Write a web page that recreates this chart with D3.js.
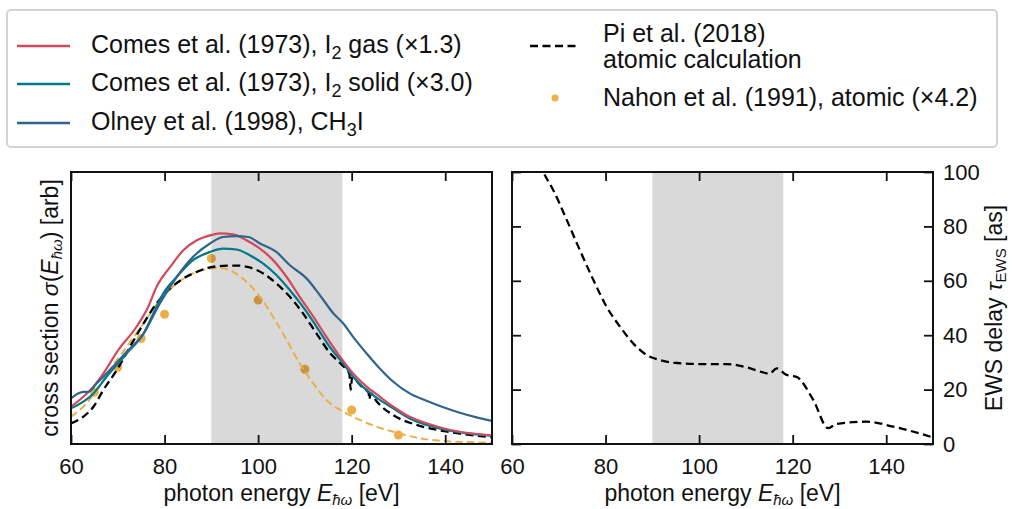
<!DOCTYPE html>
<html>
<head>
<meta charset="utf-8">
<script src="https://cdn.jsdelivr.net/npm/d3@7"></script>
<style>
  body { margin: 0; background: #fff; }
  svg text { font-family: "Liberation Sans", Arial, sans-serif; fill: #111; }
</style>
</head>
<body>
<script>
// photon energy [eV], cross sections in arbitrary units
var gasI2 = [[60,0.137],[64.8,0.211],[66.9,0.259],[70.1,0.345],[74,0.431],[76.5,0.504],[78.3,0.578],[81.2,0.651],[84,0.712],[86.9,0.749],[89.7,0.767],[91.8,0.774],[94.7,0.771],[97.5,0.749],[100.4,0.718],[103.2,0.676],[106.1,0.614],[108.9,0.541],[111.8,0.468],[114.6,0.394],[117.5,0.321],[120.3,0.259],[123.2,0.211],[126,0.174],[128.9,0.137],[132.4,0.1],[136,0.076],[139.6,0.058],[143.1,0.045],[150,0.032]];
var solidI2 = [[60,0.131],[64.8,0.186],[67.6,0.247],[71.9,0.333],[75.5,0.406],[77.6,0.48],[79.7,0.553],[82.6,0.614],[86.1,0.676],[89.7,0.706],[92.5,0.718],[95.4,0.715],[98.2,0.694],[101.1,0.663],[103.9,0.621],[106.8,0.565],[109.6,0.504],[112.5,0.431],[115.3,0.357],[118.2,0.296],[120.3,0.247],[123.2,0.198],[126,0.162],[128.9,0.131],[132.4,0.094],[136,0.07],[139.6,0.054],[143.1,0.043],[150,0.031]];
var olneyCH3I = [[60,0.168],[62.6,0.192],[63.7,0.192],[65.5,0.223],[68.3,0.272],[71.9,0.339],[75.5,0.406],[79,0.517],[82.6,0.614],[86.1,0.688],[89.7,0.737],[92.5,0.761],[95.4,0.764],[97.9,0.761],[100.4,0.737],[103.9,0.706],[106.8,0.657],[110.4,0.608],[113.2,0.547],[116.1,0.48],[118.2,0.443],[120.3,0.394],[123.2,0.333],[126,0.278],[128.9,0.229],[132.4,0.186],[136,0.159],[139.6,0.135],[143.1,0.115],[146.7,0.098],[150,0.085]];
var piCalc = [[60,0.076],[62.6,0.1],[64.8,0.137],[66.9,0.198],[69.8,0.272],[72.6,0.357],[75.5,0.443],[78.3,0.517],[81.2,0.572],[84,0.608],[86.9,0.633],[89.7,0.649],[92.5,0.655],[95.4,0.656],[98.2,0.649],[101.1,0.627],[103.9,0.59],[106.8,0.541],[109.6,0.48],[112.5,0.406],[115.3,0.336],[117.5,0.298],[118.8,0.275],[119.5,0.258],[119.8,0.2],[120.1,0.246],[121,0.232],[122.5,0.205],[123.6,0.19],[123.8,0.163],[124,0.186],[125.4,0.155],[128.8,0.107],[133.9,0.07],[141,0.044],[150,0.025]];
var nahonFit = [[60,0.1],[62.6,0.137],[65.5,0.198],[68.3,0.272],[71.9,0.357],[75.5,0.443],[79,0.529],[82.6,0.59],[86.1,0.627],[89.7,0.645],[91.8,0.647],[94.7,0.633],[97.5,0.596],[100.4,0.541],[103.2,0.468],[106.1,0.382],[108.9,0.296],[111.8,0.223],[114.6,0.162],[118.2,0.119],[121.8,0.088],[125.3,0.064],[128.9,0.045],[132.4,0.029],[136,0.017],[139.6,0.011],[150,0.005]];
var nahonPts = [[65,0.19],[70,0.282],[75,0.388],[80,0.477],[90,0.682],[100,0.529],[110,0.275],[120,0.125],[130,0.033]];
// EWS delay [as]
var ewsDelay = [[64,112],[66.7,100],[68.8,93.4],[71.7,82.4],[74.5,71.3],[77.4,60.3],[80.2,50.5],[83.1,43.1],[85.9,37],[88.8,32.7],[91.6,30.9],[94.5,29.9],[100.2,29.4],[105.9,29.4],[110.1,28.2],[114.4,26],[115,25.8],[116.6,27.8],[118.7,25.4],[120.8,24.7],[124.4,16.2],[127.6,5.8],[129.4,7.4],[135.8,8.2],[141.5,6.4],[150,2.4]];

var shadeRange = [90, 118];
var xTicks = [60, 80, 100, 120, 140];
var yTicksR = [0, 20, 40, 60, 80, 100];

var col = { red: "#d1495b", teal: "#00798c", blue: "#30638e", orange: "#edae49" };

var W = 1014, H = 509;
var svg = d3.select("body").append("svg").attr("width", W).attr("height", H);

var yTop = 172, yBot = 444;
var xL = d3.scaleLinear().domain([60, 150]).range([71, 492]);
var xR = d3.scaleLinear().domain([60, 150]).range([512, 933]);
var yL = d3.scaleLinear().domain([0, 1]).range([yBot, yTop]);
var yR = d3.scaleLinear().domain([0, 100]).range([yBot, yTop]);

function clip(id, x) {
    svg.append("clipPath").attr("id", id).append("rect")
        .attr("x", x.range()[0]).attr("y", yTop)
        .attr("width", x.range()[1] - x.range()[0]).attr("height", yBot - yTop);
}
clip("cl", xL);
clip("cr", xR);

function line(x, y) {
    return d3.line().x(d => x(d[0])).y(d => y(d[1])).curve(d3.curveMonotoneX);
}

// ---- left panel
var gl = svg.append("g").attr("clip-path", "url(#cl)");
gl.selectAll("circle").data(nahonPts).enter().append("circle")
    .attr("cx", d => xL(d[0])).attr("cy", d => yL(d[1])).attr("r", 4.5)
    .attr("fill", col.orange);
gl.append("rect").attr("x", xL(shadeRange[0])).attr("y", yTop)
    .attr("width", xL(shadeRange[1]) - xL(shadeRange[0])).attr("height", yBot - yTop)
    .attr("fill", "#000").attr("opacity", 0.15);

var lf = line(xL, yL);
gl.append("path").attr("d", lf(nahonFit)).attr("fill", "none").attr("stroke", col.orange)
    .attr("stroke-width", 2).attr("stroke-dasharray", "7.5,4");
gl.append("path").attr("d", lf(piCalc)).attr("fill", "none").attr("stroke", "#000")
    .attr("stroke-width", 2.3).attr("stroke-dasharray", "8,4.5");
gl.append("path").attr("d", lf(solidI2)).attr("fill", "none").attr("stroke", col.teal).attr("stroke-width", 2.2);
gl.append("path").attr("d", lf(gasI2)).attr("fill", "none").attr("stroke", col.red).attr("stroke-width", 2.2);
gl.append("path").attr("d", lf(olneyCH3I)).attr("fill", "none").attr("stroke", col.blue).attr("stroke-width", 2.2);

// ---- right panel
var gr = svg.append("g").attr("clip-path", "url(#cr)");
gr.append("rect").attr("x", xR(shadeRange[0])).attr("y", yTop)
    .attr("width", xR(shadeRange[1]) - xR(shadeRange[0])).attr("height", yBot - yTop)
    .attr("fill", "#000").attr("opacity", 0.15);
gr.append("path").attr("d", line(xR, yR)(ewsDelay)).attr("fill", "none").attr("stroke", "#000")
    .attr("stroke-width", 2.3).attr("stroke-dasharray", "8,4.5");

// ---- axes (ticks inward)
function frame(x, withY) {
    var g = svg.append("g");
    g.append("g").attr("transform", "translate(0," + yBot + ")")
        .call(d3.axisBottom(x).tickValues(xTicks).tickSizeInner(-9).tickSizeOuter(0).tickPadding(14));
    g.append("g").attr("transform", "translate(0," + yTop + ")")
        .call(d3.axisTop(x).tickValues(xTicks).tickSizeInner(-9).tickSizeOuter(0).tickFormat(""));
    if (withY) {
        g.append("g").attr("transform", "translate(" + x.range()[0] + ",0)")
            .call(d3.axisLeft(yR).tickValues(yTicksR).tickSizeInner(-9).tickSizeOuter(0).tickFormat(""));
        g.append("g").attr("transform", "translate(" + x.range()[1] + ",0)")
            .call(d3.axisRight(yR).tickValues(yTicksR).tickSizeInner(-9).tickSizeOuter(0).tickPadding(10));
    }
    g.selectAll(".domain").remove();
    g.selectAll(".tick line").attr("stroke", "#111").attr("stroke-width", 1.8);
    g.selectAll(".tick text").attr("font-size", 22).attr("font-family", "Liberation Sans").attr("fill", "#111");
    g.append("rect").attr("x", x.range()[0]).attr("y", yTop)
        .attr("width", x.range()[1] - x.range()[0]).attr("height", yBot - yTop)
        .attr("fill", "none").attr("stroke", "#111").attr("stroke-width", 2);
    return g;
}
frame(xL, false);
frame(xR, true);

// axis labels
function xLabel(x) {
    var t = svg.append("text").attr("x", (x.range()[0] + x.range()[1]) / 2).attr("y", 501)
        .attr("text-anchor", "middle").attr("font-size", 23);
    t.append("tspan").text("photon energy ");
    t.append("tspan").attr("font-style", "italic").text("E");
    t.append("tspan").attr("font-style", "italic").attr("font-size", 15).attr("dy", 4).text("ħω");
    t.append("tspan").attr("dy", -4).text(" [eV]");
}
xLabel(xL);
xLabel(xR);

var yl = svg.append("text").attr("transform", "translate(58," + (yTop + yBot) / 2 + ") rotate(-90)")
    .attr("text-anchor", "middle").attr("font-size", 23);
yl.append("tspan").text("cross section ");
yl.append("tspan").attr("font-style", "italic").text("σ");
yl.append("tspan").text("(");
yl.append("tspan").attr("font-style", "italic").text("E");
yl.append("tspan").attr("font-style", "italic").attr("font-size", 15).attr("dy", 4).text("ħω");
yl.append("tspan").attr("dy", -4).text(") [arb]");

var yr = svg.append("text").attr("transform", "translate(1002," + (yTop + yBot) / 2 + ") rotate(-90)")
    .attr("text-anchor", "middle").attr("font-size", 23);
yr.append("tspan").text("EWS delay ");
yr.append("tspan").attr("font-style", "italic").text("τ");
yr.append("tspan").attr("font-size", 15).attr("dy", 4).text("EWS");
yr.append("tspan").attr("dy", -4).text(" [as]");

// ---- legend
var lg = svg.append("g");
lg.append("rect").attr("x", 7).attr("y", 10).attr("width", 990).attr("height", 137).attr("rx", 4)
    .attr("fill", "#fff").attr("stroke", "#d4d4d4").attr("stroke-width", 2);

var leftItems = [
    { c: col.red, parts: [["Comes et al. (1973), I"], ["2", "sub"], [" gas (×1.3)"]] },
    { c: col.teal, parts: [["Comes et al. (1973), I"], ["2", "sub"], [" solid (×3.0)"]] },
    { c: col.blue, parts: [["Olney et al. (1998), CH"], ["3", "sub"], ["I"]] }
];
var rowY = [46, 84, 123];

function richText(g, x, y, parts) {
    var t = g.append("text").attr("x", x).attr("y", y).attr("font-size", 25);
    var shift = 0;
    parts.forEach(function (p) {
        var s = t.append("tspan").text(p[0]);
        if (p[1] === "sub") { s.attr("font-size", 18).attr("dy", 6); shift = 6; }
        else if (shift) { s.attr("dy", -shift); shift = 0; }
    });
    return t;
}

leftItems.forEach(function (it, i) {
    lg.append("line").attr("x1", 17).attr("x2", 70).attr("y1", rowY[i]).attr("y2", rowY[i])
        .attr("stroke", it.c).attr("stroke-width", 2.5);
    richText(lg, 91, rowY[i] + 7, it.parts);
});

lg.append("line").attr("x1", 530).attr("x2", 580).attr("y1", 46).attr("y2", 46)
    .attr("stroke", "#000").attr("stroke-width", 2.5).attr("stroke-dasharray", "8,4.5");
richText(lg, 603, 42, [["Pi et al. (2018)"]]);
richText(lg, 603, 68, [["atomic calculation"]]);
lg.append("circle").attr("cx", 555).attr("cy", 98).attr("r", 3.5).attr("fill", col.orange);
richText(lg, 603, 106, [["Nahon et al. (1991), atomic (×4.2)"]]);
</script>
</body>
</html>
